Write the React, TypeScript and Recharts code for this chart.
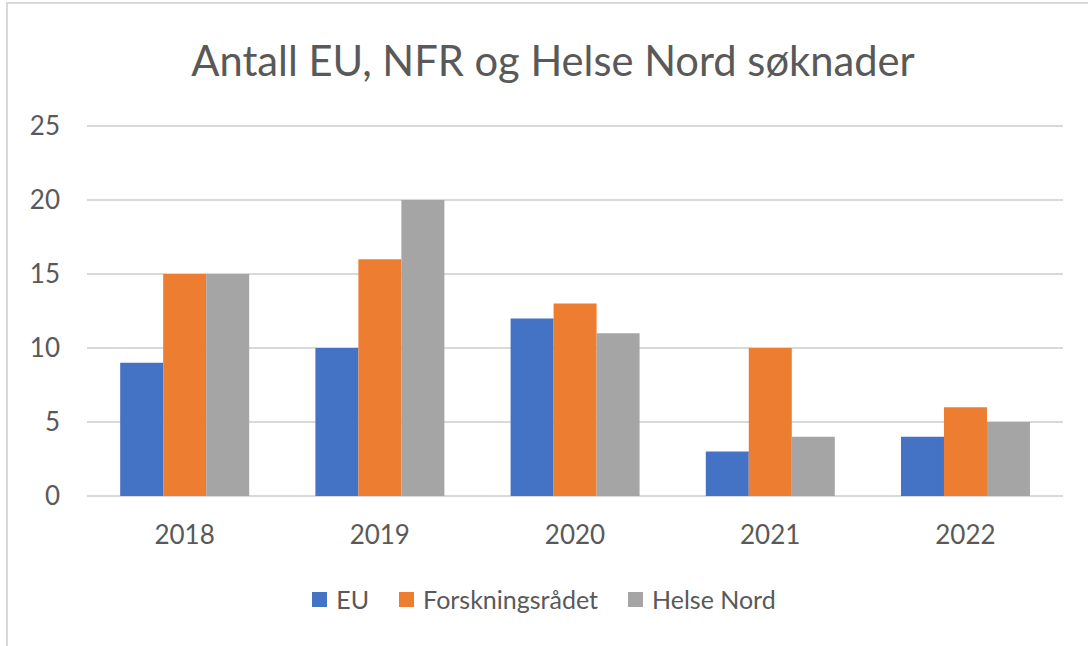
import { BarChart, Bar, XAxis, YAxis, CartesianGrid, Legend } from 'recharts';

const YEARS = ['2018', '2019', '2020', '2021', '2022'];
const EU = [9, 10, 12, 3, 4];
const FORSKNINGSRADET = [15, 16, 13, 10, 6];
const HELSE_NORD = [15, 20, 11, 4, 5];
const Y_TICKS = [0, 5, 10, 15, 20, 25];

const SERIES = [
  { key: 'eu', name: 'EU', color: '#4472C4' },
  { key: 'nfr', name: 'Forskningsrådet', color: '#ED7D31' },
  { key: 'hn', name: 'Helse Nord', color: '#A5A5A5' },
];

const FONT = 'Lato, "Open Sans", sans-serif';
const TEXT_COLOR = '#595959';

const data = YEARS.map((year, i) => ({
  year,
  eu: EU[i],
  nfr: FORSKNINGSRADET[i],
  hn: HELSE_NORD[i],
}));

/** Legend row: small squares + labels, centered under the axis */
function LegendRow({ payload }: { payload?: any[] }) {
  return (
    <div style={{ display: 'flex', justifyContent: 'center', gap: 30, fontFamily: FONT }}>
      {(payload ?? []).map((entry) => (
        <span key={entry.value} style={{ display: 'flex', alignItems: 'center', gap: 9 }}>
          <span style={{ width: 15, height: 15, background: entry.color, display: 'inline-block' }} />
          <span style={{ fontSize: 25, color: TEXT_COLOR }}>{entry.value}</span>
        </span>
      ))}
    </div>
  );
}

export default function App() {
  return (
    <div
      style={{
        position: 'absolute',
        left: 0,
        top: 0,
        width: 1088,
        height: 646,
        background: '#fff',
        overflow: 'hidden',
      }}
    >
      {/* frame edge (top + left only visible) */}
      <div
        style={{
          position: 'absolute',
          left: 6,
          top: 2,
          width: 1200,
          height: 800,
          borderTop: '2px solid #d9d9d9',
          borderLeft: '2px solid #d9d9d9',
        }}
      />
      {/* Title */}
      <div
        style={{
          position: 'absolute',
          left: 0,
          top: 35,
          width: 1106,
          textAlign: 'center',
          fontFamily: FONT,
          fontSize: 41.7,
          color: TEXT_COLOR,
          lineHeight: '50px',
        }}
      >
        Antall EU, NFR og Helse Nord søknader
      </div>
      <div style={{ position: 'absolute', left: 0, top: 0 }}>
        <BarChart
          width={1088}
          height={646}
          data={data}
          margin={{ top: 126, right: 25, left: 0, bottom: 50 }}
          barCategoryGap="17%"
          barGap={0}
        >
          <CartesianGrid vertical={false} stroke="#d9d9d9" strokeWidth={2} />
          <XAxis
            dataKey="year"
            axisLine={false}
            tickLine={false}
            tickSize={0}
            tickMargin={30}
            tick={{ fill: TEXT_COLOR, fontSize: 26, fontFamily: FONT }}
            height={70}
          />
          <YAxis
            width={87}
            domain={[0, 25]}
            ticks={Y_TICKS}
            axisLine={false}
            tickLine={false}
            tickSize={0}
            tickMargin={27}
            tick={{ fill: TEXT_COLOR, fontSize: 26, fontFamily: FONT }}
          />
          <Legend
            content={<LegendRow />}
            wrapperStyle={{ position: 'absolute', left: 0, width: 1088, top: 584 }}
          />
          {SERIES.map((s) => (
            <Bar key={s.key} dataKey={s.key} name={s.name} fill={s.color} isAnimationActive={false} />
          ))}
        </BarChart>
      </div>
    </div>
  );
}
